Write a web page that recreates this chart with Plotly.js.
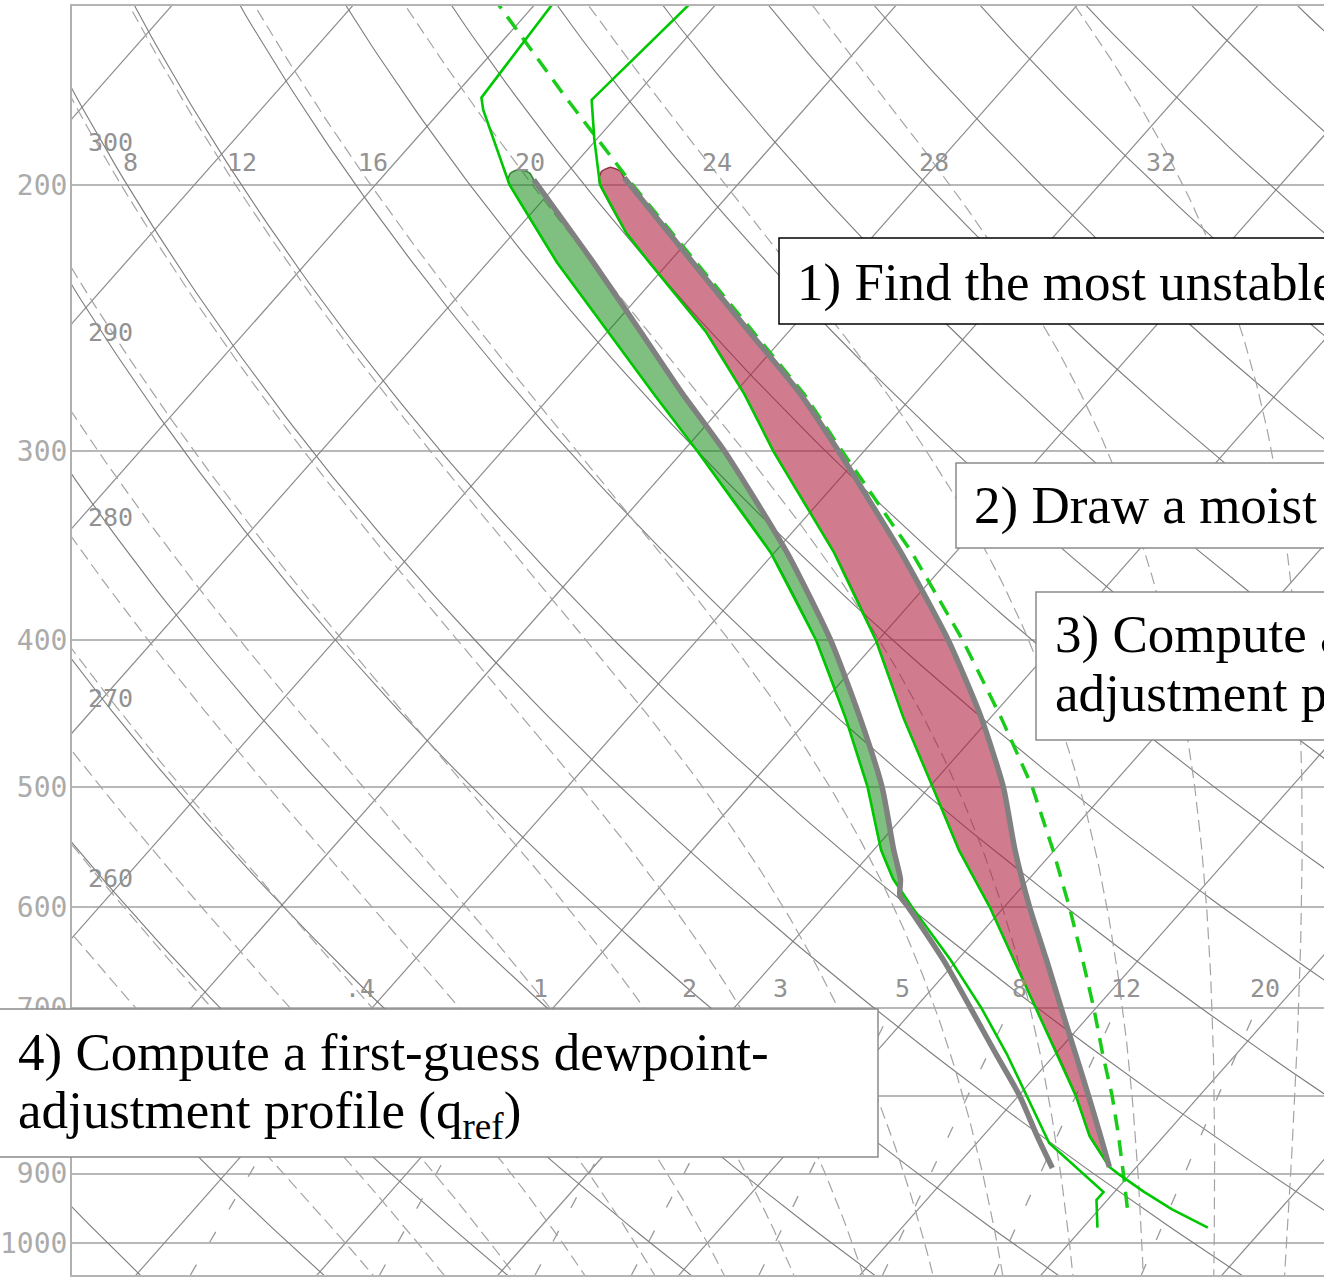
<!DOCTYPE html>
<html><head><meta charset="utf-8">
<script src="https://cdn.plot.ly/plotly-3.0.1.min.js"></script>
<style>html,body{margin:0;padding:0;background:#fff}#chart{width:1324px;height:1285px}</style>
</head><body><div id="chart"></div>
<script>
// ===== Sounding data: pressure (hPa) and temperature (°C) =====
const tempP  = [150,175.8,186.8,200,215.2,225,250,275,300,350,400,450,500,550,600,650,700,750,800,850,890.9,900,925,950,977];
const tempT  = [-61.4,-62.2,-60.1,-57.6,-53.8,-51.1,-44.6,-39.4,-35.0,-26.7,-20.1,-14.8,-9.8,-5.3,-0.8,3.1,6.7,10.1,13.2,15.9,18.5,19.3,21.6,24.0,26.9];
const dewP   = [150,175.2,178.5,200,225,250,275,300,350,400,450,500,550,575,600,650,700,750,800,850,859,925.5,936.8,977];
const dewT   = [-69.1,-68.4,-67.7,-62.6,-56.2,-50.0,-44.4,-39.2,-30.2,-23.4,-18.0,-13.4,-9.6,-7.5,-5.1,-0.4,3.7,7.3,10.5,13.5,14.0,19.4,19.4,20.8];
const parcelP = [150,175,200,225,250,275,300,350,400,450,500,550,600,650,700,750,800,850,900,951];
const parcelT = [-72.8,-63.8,-55.8,-48.5,-42.0,-36.1,-31.2,-22.4,-15.3,-9.4,-4.3,-0.1,3.6,6.9,9.9,12.6,15.2,17.5,19.6,21.6];
const tRefP = [197.9,225,250,275,300,350,400,450,500,550,600,650,700,750,800,850,890.9];
const tRefT = [-56.6,-48.7,-42.2,-36.3,-31.4,-23.0,-16.1,-10.5,-5.9,-2.2,1.4,4.9,8.1,11.1,13.9,16.5,18.5];
const qRefP = [198.5,225,250,275,300,350,400,450,500,550,575,590,600,650,700,750,800,850,892.3];
const qRefT = [-61.5,-54.2,-48.2,-42.8,-37.7,-29.3,-22.6,-17.2,-12.6,-8.9,-7.1,-6.3,-5.3,-0.8,3.1,6.7,10.1,13.0,15.4];

// ===== Diagram reference lines / labels =====
const pressureTicks = [150,200,300,400,500,600,700,800,900,1000,1050];
const isotherms = [-130,-120,-110,-100,-90,-80,-70,-60,-50,-40,-30,-20,-10,0,10,20,30,40];
const dryAdiabats = [230,240,250,260,270,280,290,300,310,320,330,340,350,360,370,380,390,400,410,420,430,440,450,460,470,480];
const dryLabels = [260,270,280,290,300];
const moistAdiabats = [-20,-16,-12,-8,-4,0,4,8,12,16,20,24,28,32,36];
const moistLabels = [8,12,16,20,24,28,32];
const mixingRatios = [0.4,1,2,3,5,8,12,20];
const mixingLabels = ['.4','1','2','3','5','8','12','20'];
const notes1 = '1) Find the most unstable parcel';
const notes2 = '2) Draw a moist adiabat';
const notes3a = '3) Compute a first-guess temperature-';
const notes3b = 'adjustment profile (T<sub>ref</sub>)';
const notes4a = '4) Compute a first-guess dewpoint-';
const notes4b = 'adjustment profile (q<sub>ref</sub>)';

// ===== skew-T geometry =====
const P0 = 1050, SKEW = 32.1, XL = -33.54, PXDEG = 18.1;
const XR = XL + 1252 / PXDEG;
const skewX = (T, p) => T + SKEW * Math.log(P0 / p);

function lerpLog(pA, vA, p) {
  if (p <= pA[0]) return vA[0];
  const n = pA.length;
  if (p >= pA[n - 1]) return vA[n - 1];
  for (let i = 0; i < n - 1; i++) {
    if (p >= pA[i] && p <= pA[i + 1]) {
      const f = (Math.log(p) - Math.log(pA[i])) / (Math.log(pA[i + 1]) - Math.log(pA[i]));
      return vA[i] + f * (vA[i + 1] - vA[i]);
    }
  }
}
function region(lp, lt, rp, rt, pTop, pBot) {
  const lv = Array.from(new Set([pTop, ...lp, ...rp, pBot])).filter(p => p >= pTop && p <= pBot).sort((a, b) => a - b);
  const xs = [], ys = [];
  lv.forEach(p => { xs.push(skewX(lerpLog(lp, lt, p), p)); ys.push(p); });
  lv.slice().reverse().forEach(p => { xs.push(skewX(lerpLog(rp, rt, p), p)); ys.push(p); });
  // rounded cap at the top
  const xa = xs[0], xb = xs[xs.length - 1];
  xs.push(xb - 0.15 * (xb - xa)); ys.push(pTop * 0.99);
  xs.push(xa + 0.45 * (xb - xa)); ys.push(pTop * 0.984);
  xs.push(xa + 0.1 * (xb - xa)); ys.push(pTop * 0.99);
  xs.push(xa); ys.push(lv[0]);
  return { xs, ys };
}
const es = Tc => 6.112 * Math.exp(17.67 * Tc / (Tc + 243.5));
function moistProfile(thw) {
  const Rd = 287.04, cp = 1005.7, Lv = 2.501e6, eps = 0.622;
  const lapse = (TK, p) => { const e = es(TK - 273.15); const rs = eps * e / (p - e);
    return (Rd * TK + Lv * rs) / (cp + Lv * Lv * rs * eps / (Rd * TK * TK)); };
  const pts = [];
  const h = 0.01;
  let T = thw + 273.15, l = Math.log(1000);
  pts.push([T, 1000]);
  while (l < Math.log(1060)) { const k1 = lapse(T, Math.exp(l)); const k2 = lapse(T + h * k1, Math.exp(l + h)); T += h * (k1 + k2) / 2; l += h; pts.push([T, Math.exp(l)]); }
  T = thw + 273.15; l = Math.log(1000);
  while (l > Math.log(140)) { const k1 = lapse(T, Math.exp(l)); const k2 = lapse(T - h * k1, Math.exp(l - h)); T -= h * (k1 + k2) / 2; l -= h; pts.push([T, Math.exp(l)]); }
  pts.sort((a, b) => a[1] - b[1]);
  return { p: pts.map(q => q[1]), t: pts.map(q => q[0] - 273.15) };
}
function mixT(w, p) { const e = (w / 1000) * p / (0.622 + w / 1000); const L = Math.log(e / 6.112); return 243.5 * L / (17.67 - L); }
function dryT(th, p) { return th * Math.pow(p / 1000, 0.2857) - 273.15; }

const pGrid = []; for (let i = 0; i <= 140; i++) pGrid.push(1060 * Math.pow(140 / 1060, i / 140));

function fam(list, fn) { const xs = [], ys = []; list.forEach(v => { fn(v).forEach(([x, p]) => { xs.push(x); ys.push(p); }); xs.push(null); ys.push(null); }); return { xs, ys }; }
const isoF = fam(isotherms, T => [[skewX(T, 1060), 1060], [skewX(T, 140), 140]]);
const dryF = fam(dryAdiabats, th => pGrid.map(p => [skewX(dryT(th, p), p), p]));
const moistCache = {};
moistAdiabats.forEach(w => moistCache[w] = moistProfile(w));
const moistF = fam(moistAdiabats, w => moistCache[w].p.map((p, i) => [skewX(moistCache[w].t[i], p), p]));
const mixP = []; for (let i = 0; i <= 20; i++) mixP.push(1050 * Math.pow(700 / 1050, i / 20));
const mixF = fam(mixingRatios, w => mixP.map(p => [skewX(mixT(w, p), p), p]));

const skip = { hoverinfo: 'skip', showlegend: false, mode: 'lines', connectgaps: false };
const traces = [
  Object.assign({ x: isoF.xs, y: isoF.ys, line: { color: '#8c8c8c', width: 1.2 } }, skip),
  Object.assign({ x: dryF.xs, y: dryF.ys, line: { color: '#7c7c7c', width: 1.1 } }, skip),
  Object.assign({ x: moistF.xs, y: moistF.ys, line: { color: '#a4a4a4', width: 1.2, dash: '12px,6px' } }, skip),
  Object.assign({ x: mixF.xs, y: mixF.ys, line: { color: '#9a9a9a', width: 1.3, dash: '12px,26px' } }, skip),
];
const gReg = region(dewP, dewT, qRefP, qRefT, 198.5, 590);
const rReg = region(tempP, tempT, tRefP, tRefT, 197.9, 890.9);
traces.push(Object.assign({ x: gReg.xs, y: gReg.ys, fill: 'toself', fillcolor: 'rgba(0,128,0,0.5)', line: { color: 'rgba(0,90,0,0.7)', width: 1.5, shape: 'spline', smoothing: 0.5 } }, skip));
traces.push(Object.assign({ x: rReg.xs, y: rReg.ys, fill: 'toself', fillcolor: 'rgba(175,30,60,0.58)', line: { color: 'rgba(120,20,40,0.8)', width: 1.5, shape: 'spline', smoothing: 0.5 } }, skip));
traces.push(Object.assign({ x: parcelP.map((p, i) => skewX(parcelT[i], p)), y: parcelP, line: { color: '#19cc19', width: 3.5, dash: '16px,10px' } }, skip));
traces.push(Object.assign({ x: tempP.map((p, i) => skewX(tempT[i], p)), y: tempP, line: { color: '#00c800', width: 2.6 } }, skip));
traces.push(Object.assign({ x: dewP.map((p, i) => skewX(dewT[i], p)), y: dewP, line: { color: '#00c800', width: 2.6 } }, skip));
traces.push(Object.assign({ x: qRefP.map((p, i) => skewX(qRefT[i], p)), y: qRefP, line: { color: '#808080', width: 5.5, shape: 'spline', smoothing: 0.6 } }, skip));
traces.push(Object.assign({ x: tRefP.map((p, i) => skewX(tRefT[i], p)), y: tRefP, line: { color: '#808080', width: 5.5, shape: 'spline', smoothing: 0.6 } }, skip));

// ===== labels on diagram lines =====
const lblFont = { family: 'DejaVu Sans Mono', size: 25, color: '#929292' };
const annotations = [];
dryLabels.forEach(th => {
  let lo = 120, hi = 1100; const target = XL + 1.65;
  for (let k = 0; k < 60; k++) { const mid = Math.sqrt(lo * hi); if (skewX(dryT(th, mid), mid) < target) lo = mid; else hi = mid; }
  annotations.push({ x: XL + 2.1, y: Math.log10(lo), xref: 'x', yref: 'y', text: String(th), showarrow: false, font: lblFont, xanchor: 'center', yanchor: 'middle' });
});
moistLabels.forEach(w => {
  const pr = moistCache[w]; const pl = 193.5;
  const X = skewX(lerpLog(pr.p, pr.t, pl), pl);
  const d = (X - XL) * PXDEG - 36;               // pixel distance from left edge region
  const shift = 22 - 0.012 * d - 0.000018 * d * d; // label sits to the right of its line
  annotations.push({ x: X, y: Math.log10(pl), xshift: shift, xref: 'x', yref: 'y', text: String(w), showarrow: false, font: lblFont, xanchor: 'center', yanchor: 'middle' });
});
mixingRatios.forEach((w, i) => {
  const pl = 679;
  annotations.push({ x: skewX(mixT(w, pl), pl), y: Math.log10(pl), xref: 'x', yref: 'y', text: mixingLabels[i], showarrow: false, font: lblFont, xanchor: 'center', yanchor: 'middle' });
});

// ===== note boxes =====
const px2x = px => (px - 72) / 1252, py2y = py => (1275 - py) / 1269;
const noteFont = { family: 'Liberation Serif, Times New Roman, serif', size: 53, color: '#000' };
const notes = [
  [notes1, 795, 282], [notes2, 972, 505], [notes3a, 1053, 634], [notes3b, 1053, 697], [notes4a, 16, 1052], [notes4b, 16, 1114]
];
notes.forEach(([t, x, y]) => annotations.push({ x: px2x(x), y: py2y(y), xref: 'paper', yref: 'paper', text: t, showarrow: false, font: noteFont, xanchor: 'left', yanchor: 'middle', align: 'left' }));
const box = (x0, y0, x1, y1, c) => ({ type: 'rect', xref: 'paper', yref: 'paper', x0: px2x(x0), x1: px2x(x1), y0: py2y(y1), y1: py2y(y0), fillcolor: '#fff', line: { color: c, width: 1.5 }, layer: 'above' });
const shapes = [
  box(779, 238, 1500, 324, '#000'),
  box(956, 463, 1500, 548, '#8a8a8a'),
  box(1036, 592, 1500, 740, '#8a8a8a'),
  box(-60, 1009, 878, 1157, '#8a8a8a')
];

const layout = {
  width: 1324, height: 1285,
  margin: { l: 72, r: 0, t: 6, b: 10 },
  paper_bgcolor: '#fff', plot_bgcolor: '#fff',
  showlegend: false, hovermode: false,
  xaxis: { range: [XL, XR], showgrid: false, zeroline: false, showticklabels: false, ticks: '', showline: true, mirror: true, linecolor: '#b4b4b4', linewidth: 2 },
  yaxis: { type: 'log', range: [Math.log10(1050), Math.log10(152.4)], tickvals: pressureTicks, ticktext: pressureTicks.map(String),
    showgrid: true, gridcolor: '#b8b8b8', gridwidth: 2, zeroline: false, showline: true, linecolor: '#b0b0b0', linewidth: 2,
    ticks: '', ticklabelstandoff: -3, tickfont: { family: 'DejaVu Sans Mono', size: 28, color: '#ababab' } },
  shapes, annotations
};
Plotly.newPlot('chart', traces, layout, { displayModeBar: false, staticPlot: true });
</script>
</body></html>
